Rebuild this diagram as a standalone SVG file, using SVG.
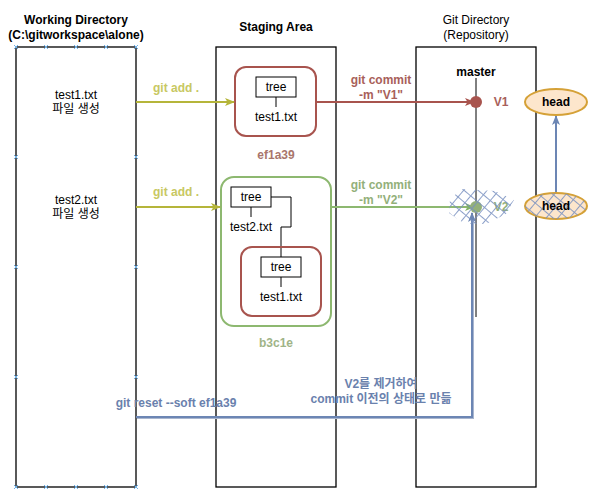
<svg xmlns="http://www.w3.org/2000/svg" width="599" height="504" viewBox="0 0 599 504">
<style>
text{font-family:"Liberation Sans",Arial,"Noto Sans CJK KR",sans-serif;font-size:12px;text-anchor:middle}
.b{font-weight:bold}
.col{fill:none;stroke:#000;stroke-width:1.3}
.mk{stroke:#6fb1e8;stroke-width:1}
.tr{fill:#fff;stroke:#000;stroke-width:1}
.ln{stroke:#000;stroke-width:1;fill:none}
.ol{fill:#c8c862}
.rd{fill:#a8605a}
.gr{fill:#93b07a}
.bl{fill:#6a81ad}
</style>
<defs>
<marker id="aY" viewBox="0 0 10 8" refX="9" refY="4" markerWidth="10" markerHeight="8" orient="auto" markerUnits="userSpaceOnUse"><path d="M0,0 L10,4 L0,8 L2.5,4 Z" fill="#b5b53a"/></marker>
<marker id="aG" viewBox="0 0 10 8" refX="9" refY="4" markerWidth="10" markerHeight="8" orient="auto" markerUnits="userSpaceOnUse"><path d="M0,0 L10,4 L0,8 L2.5,4 Z" fill="#82b366"/></marker>
<marker id="aR" viewBox="0 0 10 8" refX="9" refY="4" markerWidth="10" markerHeight="8" orient="auto" markerUnits="userSpaceOnUse"><path d="M0,0 L10,4 L0,8 L2.5,4 Z" fill="#a8544e"/></marker>
<marker id="aB" viewBox="0 0 10 8" refX="9" refY="4" markerWidth="10" markerHeight="8" orient="auto" markerUnits="userSpaceOnUse"><path d="M0,0 L10,4 L0,8 L2.5,4 Z" fill="#6c86b4"/></marker>
<pattern id="hatch" width="9" height="9" patternUnits="userSpaceOnUse" patternTransform="rotate(40)">
<path d="M0,0 L0,9 M0,0 L9,0" stroke="#7890c0" stroke-width="2" fill="none" opacity="0.85"/>
</pattern>
<g id="mx"><path d="M-2,-2 L2,2 M-2,2 L2,-2" class="mk"/></g>
</defs>

<g id="working-directory">
<text class="b" x="76" y="24">Working Directory</text>
<text class="b" x="76" y="39">(C:\gitworkspace\alone)</text>
<rect class="col" x="16" y="47" width="120" height="440"/>
<g>
<use href="#mx" x="16" y="47"/><use href="#mx" x="46" y="47"/><use href="#mx" x="76" y="47"/><use href="#mx" x="106" y="47"/><use href="#mx" x="136" y="47"/>
<use href="#mx" x="16" y="487"/><use href="#mx" x="46" y="487"/><use href="#mx" x="76" y="487"/><use href="#mx" x="106" y="487"/><use href="#mx" x="136" y="487"/>
<use href="#mx" x="16" y="157"/><use href="#mx" x="16" y="267"/><use href="#mx" x="16" y="377"/>
<use href="#mx" x="136" y="157"/><use href="#mx" x="136" y="267"/><use href="#mx" x="136" y="377"/>
</g>
<text x="76" y="99">test1.txt</text>
<text x="76" y="113">파일 생성</text>
<text x="76" y="204">test2.txt</text>
<text x="76" y="218">파일 생성</text>
</g>

<g id="staging-area">
<text class="b" x="276" y="31">Staging Area</text>
<rect class="col" x="216" y="47" width="120" height="440"/>
</g>

<g id="git-directory">
<text x="476" y="24">Git Directory</text>
<text x="476" y="39">(Repository)</text>
<rect class="col" x="416" y="47" width="120" height="440"/>
<line class="ln" x1="476" y1="78" x2="476" y2="317"/>
<text class="b" x="476" y="76">master</text>
</g>

<g id="commit-ef1a39">
<rect x="235" y="67" width="81" height="69" rx="11" fill="#fff" stroke="#a8544e" stroke-width="2"/>
<rect class="tr" x="256" y="77" width="40" height="20"/>
<text x="276" y="91">tree</text>
<line class="ln" x1="276" y1="97" x2="276" y2="107"/>
<text x="276" y="121">test1.txt</text>
<text class="b" x="276" y="159" fill="#a9766c">ef1a39</text>
</g>

<g id="commit-b3c1e">
<rect x="221" y="177" width="110" height="149" rx="13" fill="#fff" stroke="#8db870" stroke-width="2"/>
<rect class="tr" x="231" y="187" width="40" height="20"/>
<text x="251" y="201">tree</text>
<line class="ln" x1="251" y1="207" x2="251" y2="217"/>
<text x="251" y="231">test2.txt</text>
<path class="ln" d="M271,197 H291 V227 H281 V257"/>
<rect x="241" y="247" width="80" height="69" rx="11" fill="none" stroke="#a8544e" stroke-width="2"/>
<rect class="tr" x="261" y="257" width="40" height="20"/>
<text x="281" y="271">tree</text>
<line class="ln" x1="281" y1="277" x2="281" y2="287"/>
<text x="281" y="301">test1.txt</text>
<text class="b" x="276" y="347" fill="#9fb487">b3c1e</text>
</g>

<g id="connectors">
<line x1="136" y1="102" x2="234" y2="102" stroke="#b5b53a" stroke-width="2" marker-end="url(#aY)"/>
<text class="b ol" x="176" y="92">git add .</text>
<line x1="136" y1="207" x2="220" y2="207" stroke="#b5b53a" stroke-width="2" marker-end="url(#aY)"/>
<text class="b ol" x="176" y="196">git add .</text>

<line x1="316" y1="102" x2="474" y2="102" stroke="#a8544e" stroke-width="2" marker-end="url(#aR)"/>
<text class="b rd" x="381" y="84">git commit</text>
<text class="b rd" x="381" y="99">-m "V1"</text>

<line x1="331" y1="207" x2="474" y2="207" stroke="#8db870" stroke-width="2" marker-end="url(#aG)"/>
<text class="b gr" x="381" y="189">git commit</text>
<text class="b gr" x="381" y="204">-m "V2"</text>

<path d="M137,418 H473 V219" fill="none" stroke="#a9b6cf" stroke-width="2"/>
<path d="M136,417 H472 V213" fill="none" stroke="#6c86b4" stroke-width="2" marker-end="url(#aB)"/>
<text class="b bl" x="176" y="407">git reset --soft ef1a39</text>
<text class="b bl" x="381" y="388">V2를 제거하여</text>
<text class="b bl" x="381" y="403">commit 이전의 상태로 만듦</text>

<line x1="556" y1="193" x2="556" y2="116" stroke="#6c86b4" stroke-width="2" marker-end="url(#aB)"/>
</g>

<g id="v1">
<circle cx="476" cy="102" r="6" fill="#a8544e"/>
<text class="b rd" x="501" y="106">V1</text>
</g>

<g id="v2">
<circle cx="476" cy="207" r="6" fill="#93b07a"/>
<text class="b gr" x="501" y="211">V2</text>
<path d="M450,199 L462,189 L495,191 L514,200 L506,214 L486,224 L465,224 L449,213 Z" fill="url(#hatch)"/>
</g>

<g id="head-1">
<ellipse cx="556" cy="102" rx="31" ry="13" fill="#fde6cc" stroke="#d5a137" stroke-width="2"/>
<text class="b" x="556" y="106">head</text>
</g>

<g id="head-2">
<ellipse cx="556" cy="206" rx="31" ry="13" fill="#fde6cc" stroke="#d5a137" stroke-width="2"/>
<ellipse cx="556" cy="206" rx="31" ry="13" fill="url(#hatch)"/>
<text class="b" x="556" y="210">head</text>
</g>
</svg>
